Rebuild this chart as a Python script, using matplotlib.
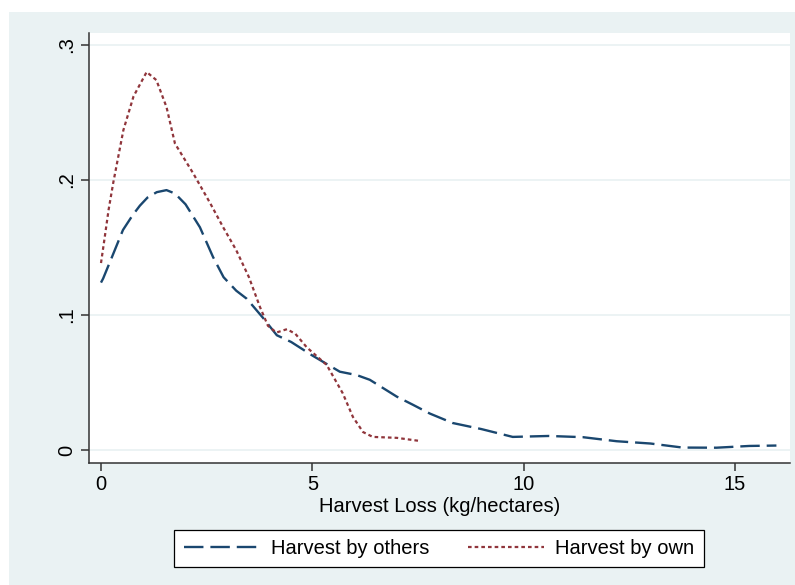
import matplotlib
matplotlib.use("Agg")
import matplotlib.pyplot as plt
from matplotlib.patches import Rectangle

plt.rcParams['font.family'] = ['Liberation Sans', 'DejaVu Sans']
plt.rcParams['lines.scale_dashes'] = False

# Data: kernel density estimates
others_x = [0, 0.05, 0.26, 0.52, 0.75, 0.92, 1.1, 1.32, 1.55, 1.75, 2.0, 2.34, 2.65, 2.9,
            3.05, 3.2, 3.45, 3.83, 4.16, 4.5, 5.0, 5.65, 6.05, 6.36, 7.0, 7.38, 7.78,
            8.32, 9.0, 9.74, 10.6, 11.4, 12.2, 13.0, 13.76, 14.56, 15.34, 15.98]
others_y = [0.124, 0.127, 0.143, 0.163, 0.174, 0.181, 0.187, 0.191, 0.1925, 0.190, 0.182,
            0.165, 0.143, 0.128, 0.123, 0.118, 0.112, 0.098, 0.085, 0.080, 0.070, 0.058,
            0.0555, 0.052, 0.0395, 0.0335, 0.027, 0.020, 0.0155, 0.0097, 0.0104, 0.0095,
            0.0065, 0.0048, 0.0018, 0.0017, 0.003, 0.0033]

own_x = [0, 0.09, 0.18, 0.29, 0.53, 0.77, 1.08, 1.31, 1.55, 1.75, 2.18, 2.58, 2.89, 3.2,
         3.5, 3.76, 3.95, 4.15, 4.4, 4.6, 4.87, 5.34, 5.72, 5.96, 6.2, 6.43, 7.0, 7.54]
own_y = [0.1385, 0.158, 0.178, 0.198, 0.237, 0.262, 0.280, 0.274, 0.254, 0.227, 0.205,
         0.183, 0.165, 0.148, 0.128, 0.106, 0.092, 0.087, 0.0895, 0.086, 0.076, 0.063,
         0.042, 0.0245, 0.0133, 0.0097, 0.009, 0.0067]

x_ticks = [0, 5, 10, 15]
x_labels = ["0", "5", "10", "15"]
y_ticks = [0, 0.1, 0.2, 0.3]
y_labels = ["0", ".1", ".2", ".3"]

BG = "#EAF2F3"
NAVY = "#1A476F"
MAROON = "#90353B"
FS = 14.5

W, H = 795, 585
fig = plt.figure(figsize=(W / 100, H / 100), dpi=100, facecolor="white")
fig.patches.append(Rectangle((9 / W, 0), 1 - 9 / W, 1 - 12 / H, transform=fig.transFigure,
                             facecolor=BG, edgecolor="none", zorder=-10))

left, right, top, bottom = 89, 790, 33, 463
ax = fig.add_axes([left / W, 1 - bottom / H, (right - left) / W, (bottom - top) / H])
ax.set_facecolor("white")

px_per_x = (735 - 101) / 15.0
px_per_y = (450 - 45) / 0.3
ax.set_xlim((left - 101) / px_per_x, (right - 101) / px_per_x)
ax.set_ylim((450 - bottom) / px_per_y, (450 - top) / px_per_y)

for yt in y_ticks:
    ax.axhline(yt, color=BG, lw=1.3, zorder=0)

ax.plot(others_x, others_y, color=NAVY, lw=1.7, linestyle=(0, (14, 5)),
        label="Harvest by others", zorder=3)
ax.plot(own_x, own_y, color=MAROON, lw=1.6, linestyle=(0, (2.6, 2.2)),
        label="Harvest by own", zorder=3)

for s in ["top", "right"]:
    ax.spines[s].set_visible(False)
for s in ["left", "bottom"]:
    ax.spines[s].set_color("#333333")
    ax.spines[s].set_linewidth(1.1)

ax.set_xticks(x_ticks)
ax.set_xticklabels(x_labels)
ax.set_yticks(y_ticks)
ax.set_yticklabels(y_labels, rotation=90, va="center")
ax.tick_params(axis="both", length=6, width=1.1, color="#333333", labelsize=FS,
               labelcolor="black", pad=3)

ax.set_xlabel("Harvest Loss (kg/hectares)", fontsize=FS, labelpad=2)

leg = fig.legend(loc="center", bbox_to_anchor=(439 / W, 1 - 548.5 / H), ncol=2,
                 fontsize=FS, frameon=True, fancybox=False, edgecolor="black",
                 framealpha=1, handlelength=3.8, handletextpad=0.55, columnspacing=1.9,
                 borderpad=0.45)
leg.get_frame().set_linewidth(0.9)

fig.savefig("out.png", dpi=100, facecolor=fig.get_facecolor())
